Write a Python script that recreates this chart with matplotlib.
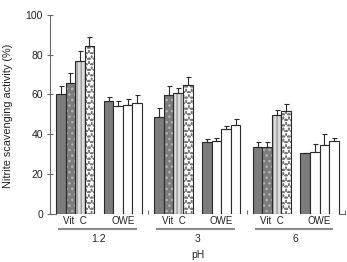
"""
Nitrite scavenging activity of Vit C and OWE at three pH values
"""

import matplotlib
matplotlib.use('Agg')
import matplotlib.pyplot as plt
import matplotlib.transforms as mtransforms
import numpy as np

#---------------------------------------------------------------------------------------------------
# Data
#---------------------------------------------------------------------------------------------------

ph_labels = ['1.2', '3', '6']
group_names = ['Vit  C', 'OWE']

# Vit C, four concentrations (mean, upper error)
vitc_1 = [60.2, 48.5, 33.3]
vitc_2 = [65.6, 59.5, 33.3]
vitc_3 = [76.8, 60.9, 49.6]
vitc_4 = [84.5, 64.7, 51.8]
vitc_1_err = [4.2, 4.8, 2.6]
vitc_2_err = [5.0, 4.5, 2.9]
vitc_3_err = [5.2, 2.2, 2.7]
vitc_4_err = [4.3, 3.9, 3.5]

# OWE, four concentrations
owe_1 = [56.5, 35.9, 30.3]
owe_2 = [54.3, 36.7, 30.8]
owe_3 = [54.8, 42.4, 34.4]
owe_4 = [55.5, 44.4, 36.7]
owe_1_err = [2.0, 1.6, 0.4]
owe_2_err = [2.4, 1.5, 4.1]
owe_3_err = [2.7, 1.7, 5.5]
owe_4_err = [4.0, 3.4, 1.5]

vitc_series = [(vitc_1, vitc_1_err), (vitc_2, vitc_2_err), (vitc_3, vitc_3_err), (vitc_4, vitc_4_err)]
owe_series = [(owe_1, owe_1_err), (owe_2, owe_2_err), (owe_3, owe_3_err), (owe_4, owe_4_err)]

#---------------------------------------------------------------------------------------------------
# Styles
#---------------------------------------------------------------------------------------------------

# (face, hatch, hatch colour)
vitc_styles = [('#7c7c7c', None, None),
               ('#7c7c7c', '...', '#b4b4b4'),
               ('#dcdcdc', '||||', '#9a9a9a'),
               ('#767676', '***', 'white')]
owe_styles = [('#7c7c7c', None, None),
              ('white', None, None),
              ('white', None, None),
              ('white', None, None)]

plt.rcParams['font.family'] = ['Liberation Sans', 'DejaVu Sans']
plt.rcParams['hatch.linewidth'] = 1.0

edge_c = '#2a2a2a'
axis_c = '#6a6a6a'
text_c = '#222222'
group_step = 10.3
width = 1.0

#---------------------------------------------------------------------------------------------------
# Plot
#---------------------------------------------------------------------------------------------------

fig = plt.figure(figsize=(3.47, 2.62), dpi=100)
ax = fig.add_axes([50 / 347, (262 - 213.5) / 262, 295 / 347, 198.5 / 262])

starts = np.arange(len(ph_labels)) * group_step


def draw_set(offset, series, styles):
    for k, ((vals, errs), (face, hatch, hcol)) in enumerate(zip(series, styles)):
        x = starts + offset + k + 0.5
        if hatch is None:
            ax.bar(x, vals, width, color=face, edgecolor=edge_c, linewidth=0.8, zorder=2)
        else:
            ax.bar(x, vals, width, color=face, edgecolor=hcol, hatch=hatch, linewidth=0, zorder=2)
            ax.bar(x, vals, width, fill=False, edgecolor=edge_c, linewidth=0.8, zorder=3)
        ax.errorbar(x, vals, yerr=[np.zeros(len(errs)), errs], fmt='none', ecolor=edge_c,
                    elinewidth=0.8, capsize=1.8, capthick=0.8, zorder=4)


draw_set(0, vitc_series, vitc_styles)
draw_set(5, owe_series, owe_styles)

x_left = -0.63
x_right = starts[-1] + 9 + 0.66
ax.set_xlim(x_left, x_right)
ax.set_ylim(0, 100)

for s in ['top', 'right', 'bottom']:
    ax.spines[s].set_visible(False)
ax.spines['left'].set_color(axis_c)
ax.spines['left'].set_linewidth(0.8)

ax.set_yticks(np.arange(0, 101, 20))
ax.tick_params(axis='y', direction='inout', length=4, width=0.8, color=axis_c,
               labelsize=7.5, pad=3, labelcolor=text_c)

# boundary ticks on the x axis
bounds = [x_left] + list((starts[1:] + starts[:-1] + 9) / 2) + [x_right]
ax.set_xticks(bounds)
ax.set_xticklabels([])
ax.tick_params(axis='x', direction='in', length=3, width=0.8, color=axis_c)

# short baseline pieces at both ends
ax.plot([x_left, starts[0]], [0, 0], color=axis_c, lw=0.8, clip_on=False, zorder=5)
ax.plot([starts[-1] + 9, x_right], [0, 0], color=axis_c, lw=0.8, clip_on=False, zorder=5)

trans = mtransforms.blended_transform_factory(ax.transData, ax.transAxes)
for g, st in enumerate(starts):
    ax.text(st + 2, -0.04, group_names[0], transform=trans, ha='center', va='center',
            fontsize=7, color=text_c)
    ax.text(st + 7, -0.04, group_names[1], transform=trans, ha='center', va='center',
            fontsize=7, color=text_c)
    ax.plot([st + 0.3, st + 8.35], [-0.079, -0.079], transform=trans, color='#8a8a8a',
            lw=1.5, clip_on=False)
    ax.text(st + 4.5, -0.126, ph_labels[g], transform=trans, ha='center', va='center',
            fontsize=7.5, color=text_c)

ax.text(0.5, -0.21, 'pH', transform=ax.transAxes, ha='center', va='center', fontsize=7.5,
        color=text_c)
ax.set_ylabel('Nitrite scavenging activity (%)', fontsize=7.8, color=text_c)
ax.yaxis.set_label_coords(-0.125, 0.49)

plt.savefig('out.png', dpi=100)
